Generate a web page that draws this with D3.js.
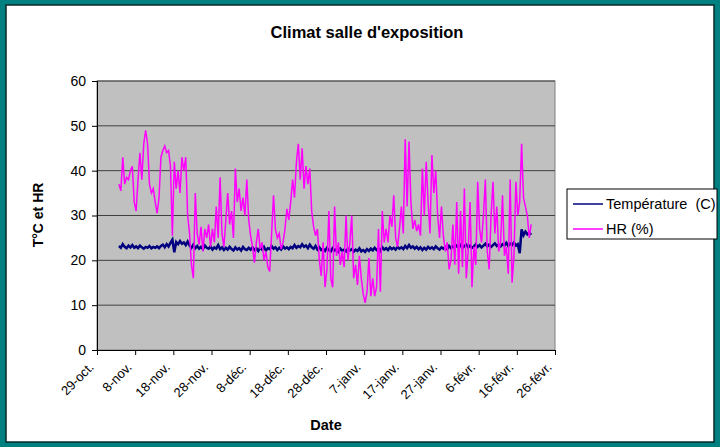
<!DOCTYPE html>
<html><head><meta charset="utf-8">
<script src="https://cdn.jsdelivr.net/npm/d3@7"></script>
<style>
html,body{margin:0;padding:0;background:#008080;}
svg{display:block;}
text{font-family:"Liberation Sans",Arial,sans-serif;fill:#000;}
</style></head>
<body>
<svg id="chart" width="720" height="447"></svg>
<script>
// ---- data ----
const seriesNames = ["Température  (C)", "HR (%)"];
const seriesColors = ["#000080", "#ff00ff"];
const startTime = "2008-11-03T18:00";
const stepHours = 12;
const temperature = [
23.2,22.8,23.6,23.0,22.7,23.3,22.9,23.4,22.8,23.1,
22.7,23.3,22.9,22.6,23.0,22.8,23.2,22.7,23.0,22.8,
23.1,22.7,23.2,23.5,22.9,23.6,23.1,23.9,24.6,21.8,
24.1,23.6,24.3,23.7,24.0,23.4,24.2,23.3,22.8,23.5,
22.7,23.2,22.6,23.0,22.5,23.3,22.8,22.6,23.1,22.4,
22.9,22.6,23.4,22.5,22.9,22.3,22.8,22.4,23.0,22.5,
22.2,22.9,22.4,22.7,22.2,23.0,22.5,22.3,22.8,22.4,
22.9,22.3,22.7,22.1,22.8,22.4,23.0,22.2,22.7,22.5,
23.2,22.6,22.9,22.3,22.8,22.4,23.1,22.6,22.9,22.5,
23.0,22.7,23.4,22.8,23.2,22.9,23.6,23.0,23.3,22.7,
23.5,22.9,22.6,23.2,22.4,22.9,22.3,22.6,22.1,22.8,
22.3,22.0,22.7,22.2,22.5,21.9,22.6,22.1,22.4,22.0,
22.6,22.2,22.5,21.9,22.4,22.1,22.7,22.0,22.3,21.9,
22.5,22.1,22.6,22.2,22.8,22.3,22.6,22.1,22.9,22.4,
22.7,22.3,22.9,22.5,22.8,22.4,23.0,22.6,22.9,22.5,
23.2,22.7,23.4,22.8,23.1,22.6,23.0,22.5,22.9,22.3,
22.8,22.4,23.0,22.6,22.9,22.5,23.1,22.7,22.4,22.9,
22.6,23.0,22.5,23.2,22.7,23.1,22.8,23.3,22.9,23.4,
22.8,23.2,23.5,22.9,23.3,22.8,23.1,23.6,23.0,23.4,
22.9,23.3,23.7,23.1,23.5,23.0,23.4,23.8,23.2,23.5,
23.1,23.6,23.3,23.9,23.2,23.7,23.4,24.0,23.3,23.6,
21.6,26.9,25.6,26.4,25.8,26.2,25.7
];
const humidity = [
37,35.5,43,37,38.5,38,40,41,33,31,
38,44,38,46,49,46,37,35,36,33,
30.5,34,43,44.5,45.5,44,44.5,41,25.5,42,
36,40,35,43,40,43,30,26,19,16,
35,26,23.5,27.5,22,27,25,28,23,27,
24,32,25,38.5,26,23,29,35,28,31,
25,40.5,33,36,31,34,30,38,29,25.5,
23,19.5,24,27,22.5,24,20,22,18.5,17.5,
26,34.5,27,25,26,22.5,24,27,31.5,29,
33,38,34,42,46,38,45,36,41,37,
40.5,31,27.5,25.5,27,20,16.5,24,14,18,
31,16,14,32,21,24,19,22,18.5,30,
20,24,30,16,19,14.5,21,16,12.5,10.5,
13,20.5,12,16,12,14,27,13,31,24,
27,24,30,27.5,34.5,25,23,27,32,26,
47,32,46.5,33,27,29,26.5,28,25.5,40.5,
30,42,33,26,43.5,35,40,30,25,32,
25.5,22,24,18,20,28,19,33,17,31,
18.5,36,16,22,33,14,23,19,37.5,27,
24,30,38,22,18,30,37.5,26,32,22,
24,34.5,21,23,17,38,15,21,37.5,30,
33,46,34,32,30,25,28
];
const tickDates = ["2008-10-29","2008-11-08","2008-11-18","2008-11-28","2008-12-08","2008-12-18","2008-12-28","2009-01-07","2009-01-17","2009-01-27","2009-02-06","2009-02-16","2009-02-26"];
const tickLabels = ["29-oct.","8-nov.","18-nov.","28-nov.","8-déc.","18-déc.","28-déc.","7-janv.","17-janv.","27-janv.","6-févr.","16-févr.","26-févr."];
const yTicks = [0,10,20,30,40,50,60];

// ---- chart ----
const svg = d3.select("#chart");
const parseDay = d3.timeParse("%Y-%m-%d");
const parseTime = d3.timeParse("%Y-%m-%dT%H:%M");
const t0 = parseTime(startTime);
const dates = temperature.map((_, i) => d3.timeHour.offset(t0, i * stepHours));
const tDates = tickDates.map(parseDay);

const L = 97, R = 555, T = 81, B = 350;
const x = d3.scaleTime().domain([tDates[0], tDates[tDates.length - 1]]).range([L, R]);
const y = d3.scaleLinear().domain([0, 60]).range([B, T]);

// white panel
svg.append("rect").attr("x", 6).attr("y", 5).attr("width", 708).attr("height", 437)
  .attr("fill", "#fff").attr("stroke", "#0a2a2a").attr("stroke-width", 1.5);

// plot area
svg.append("rect").attr("x", L).attr("y", T).attr("width", R - L).attr("height", B - T)
  .attr("fill", "#c0c0c0").attr("stroke", "#808080").attr("stroke-width", 1);

// gridlines
svg.append("g").selectAll("line").data(yTicks.filter(d => d > 0)).join("line")
  .attr("x1", L).attr("x2", R).attr("y1", d => y(d)).attr("y2", d => y(d))
  .attr("stroke", "#404040").attr("stroke-width", 1);

// lines
const line = d3.line().x((d, i) => x(dates[i])).y(d => y(d));
svg.append("path").datum(temperature).attr("d", line).attr("fill", "none")
  .attr("stroke", seriesColors[0]).attr("stroke-width", 2.5);
svg.append("path").datum(humidity).attr("d", line).attr("fill", "none")
  .attr("stroke", seriesColors[1]).attr("stroke-width", 1.5);

// y axis
const yAxis = svg.append("g").attr("transform", `translate(${L},0)`)
  .call(d3.axisLeft(y).tickValues(yTicks).tickSize(5).tickPadding(6).tickFormat(d3.format("d")));
yAxis.select(".domain").attr("stroke", "#000");
yAxis.selectAll("line").attr("stroke", "#000");
yAxis.selectAll("text").style("font-size", "14px").style("font-family", "Liberation Sans, Arial, sans-serif");

// x axis
const xAxis = svg.append("g").attr("transform", `translate(0,${B})`)
  .call(d3.axisBottom(x).tickValues(tDates).tickSize(5).tickFormat((d, i) => tickLabels[i]));
xAxis.select(".domain").attr("stroke", "#000");
xAxis.selectAll("line").attr("stroke", "#000");
xAxis.selectAll("text")
  .attr("text-anchor", "end")
  .attr("dy", null).attr("y", null)
  .attr("transform", d => `translate(-3,18) rotate(-45)`)
  .style("font-size", "13px").style("font-family", "Liberation Sans, Arial, sans-serif");

// titles
svg.append("text").attr("x", 367).attr("y", 38).attr("text-anchor", "middle")
  .style("font-size", "16.5px").style("font-weight", "bold").text("Climat salle d'exposition");
svg.append("text").attr("x", 326).attr("y", 430).attr("text-anchor", "middle")
  .style("font-size", "14.5px").style("font-weight", "bold").text("Date");
svg.append("text").attr("transform", "translate(43,215) rotate(-90)").attr("text-anchor", "middle")
  .style("font-size", "14px").style("font-weight", "bold").text("T°C et HR");

// legend
const lg = svg.append("g");
lg.append("rect").attr("x", 567).attr("y", 189).attr("width", 150).attr("height", 50)
  .attr("fill", "#fff").attr("stroke", "#000").attr("stroke-width", 1);
seriesNames.forEach((n, i) => {
  const yy = 204 + i * 25;
  lg.append("line").attr("x1", 573).attr("x2", 603).attr("y1", yy).attr("y2", yy)
    .attr("stroke", seriesColors[i]).attr("stroke-width", 1.5);
  lg.append("text").attr("x", 606).attr("y", yy + 5).style("font-size", "14.5px")
    .style("white-space", "pre").attr("xml:space", "preserve").text(n);
});
</script>
</body></html>
